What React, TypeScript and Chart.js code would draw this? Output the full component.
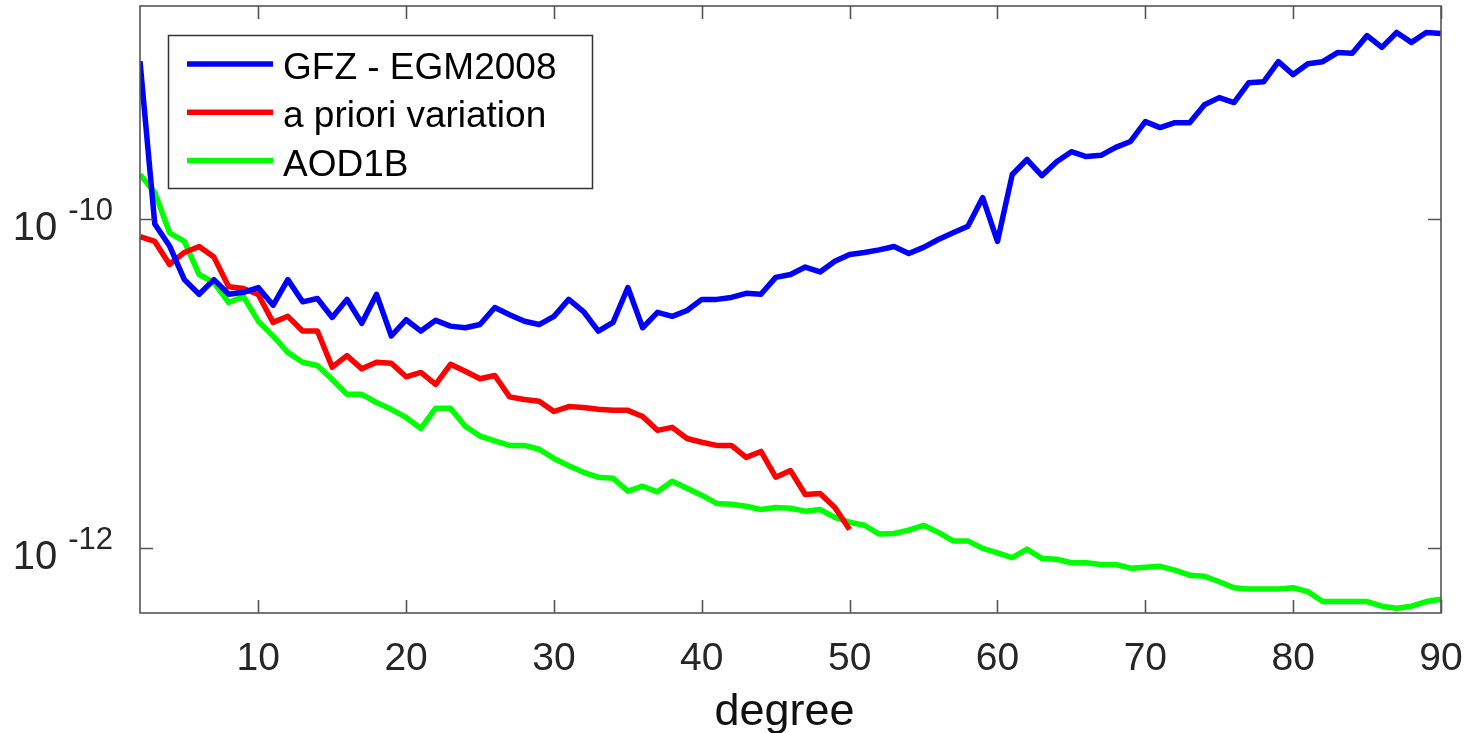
import React, { useEffect, useRef } from "react";
import { Chart, registerables } from "chart.js";

Chart.register(...registerables);

// spherical-harmonic degree
const degrees = [
  2, 3, 4, 5, 6, 7, 8, 9, 10, 11, 12, 13, 14, 15, 16, 17, 18, 19, 20, 21,
  22, 23, 24, 25, 26, 27, 28, 29, 30, 31, 32, 33, 34, 35, 36, 37, 38, 39, 40, 41,
  42, 43, 44, 45, 46, 47, 48, 49, 50, 51, 52, 53, 54, 55, 56, 57, 58, 59, 60, 61,
  62, 63, 64, 65, 66, 67, 68, 69, 70, 71, 72, 73, 74, 75, 76, 77, 78, 79, 80, 81,
  82, 83, 84, 85, 86, 87, 88, 89, 90,
];

const aprioriDegrees = [
  2, 3, 4, 5, 6, 7, 8, 9, 10, 11, 12, 13, 14, 15, 16, 17, 18, 19, 20, 21,
  22, 23, 24, 25, 26, 27, 28, 29, 30, 31, 32, 33, 34, 35, 36, 37, 38, 39, 40, 41,
  42, 43, 44, 45, 46, 47, 48, 49, 50,
];

const gfzEgm2008 = [
  9.2e-10, 9.4e-11, 6.9e-11, 4.3e-11, 3.5e-11, 4.3e-11, 3.5e-11, 3.6e-11, 3.85e-11, 3.0e-11,
  4.3e-11, 3.15e-11, 3.3e-11, 2.53e-11, 3.26e-11, 2.33e-11, 3.5e-11, 1.95e-11, 2.45e-11, 2.09e-11,
  2.43e-11, 2.24e-11, 2.19e-11, 2.29e-11, 2.91e-11, 2.63e-11, 2.4e-11, 2.29e-11, 2.57e-11, 3.26e-11,
  2.75e-11, 2.09e-11, 2.36e-11, 3.85e-11, 2.19e-11, 2.72e-11, 2.57e-11, 2.79e-11, 3.26e-11, 3.26e-11,
  3.35e-11, 3.55e-11, 3.5e-11, 4.44e-11, 4.62e-11, 5.13e-11, 4.79e-11, 5.56e-11, 6.12e-11, 6.3e-11,
  6.53e-11, 6.85e-11, 6.21e-11, 6.76e-11, 7.55e-11, 8.3e-11, 9.1e-11, 1.36e-10, 7.35e-11, 1.88e-10,
  2.32e-10, 1.85e-10, 2.25e-10, 2.59e-10, 2.42e-10, 2.46e-10, 2.75e-10, 2.99e-10, 3.95e-10, 3.63e-10,
  3.89e-10, 3.89e-10, 5.0e-10, 5.53e-10, 5.16e-10, 6.82e-10, 6.9e-10, 9.16e-10, 7.64e-10, 8.9e-10,
  9.16e-10, 1.04e-9, 1.03e-9, 1.32e-9, 1.12e-9, 1.38e-9, 1.2e-9, 1.38e-9, 1.36e-9,
];

const aprioriVariation = [
  7.87e-11, 7.35e-11, 5.32e-11, 6.3e-11, 6.85e-11, 5.9e-11, 3.89e-11, 3.8e-11, 3.49e-11, 2.36e-11,
  2.57e-11, 2.09e-11, 2.09e-11, 1.26e-11, 1.48e-11, 1.23e-11, 1.35e-11, 1.33e-11, 1.1e-11, 1.17e-11,
  9.9e-12, 1.31e-11, 1.19e-11, 1.07e-11, 1.12e-11, 8.3e-12, 8.0e-12, 7.8e-12, 6.76e-12, 7.24e-12,
  7.16e-12, 6.97e-12, 6.87e-12, 6.87e-12, 6.3e-12, 5.19e-12, 5.41e-12, 4.63e-12, 4.39e-12, 4.2e-12,
  4.2e-12, 3.55e-12, 3.86e-12, 2.69e-12, 2.95e-12, 2.11e-12, 2.14e-12, 1.76e-12, 1.29e-12,
];

const aod1b = [
  1.88e-10, 1.46e-10, 8.3e-11, 7.35e-11, 4.62e-11, 4.13e-11, 3.12e-11, 3.39e-11, 2.4e-11, 1.95e-11,
  1.55e-11, 1.35e-11, 1.29e-11, 1.06e-11, 8.6e-12, 8.6e-12, 7.67e-12, 6.97e-12, 6.22e-12, 5.33e-12,
  7.08e-12, 7.08e-12, 5.5e-12, 4.79e-12, 4.47e-12, 4.2e-12, 4.2e-12, 3.98e-12, 3.5e-12, 3.16e-12,
  2.88e-12, 2.69e-12, 2.65e-12, 2.21e-12, 2.37e-12, 2.19e-12, 2.54e-12, 2.3e-12, 2.09e-12, 1.86e-12,
  1.84e-12, 1.79e-12, 1.71e-12, 1.76e-12, 1.74e-12, 1.67e-12, 1.71e-12, 1.53e-12, 1.43e-12, 1.37e-12,
  1.21e-12, 1.22e-12, 1.28e-12, 1.37e-12, 1.24e-12, 1.1e-12, 1.1e-12, 9.9e-13, 9.3e-13, 8.7e-13,
  9.8e-13, 8.6e-13, 8.5e-13, 8.1e-13, 8.1e-13, 7.9e-13, 7.9e-13, 7.5e-13, 7.6e-13, 7.7e-13,
  7.3e-13, 6.8e-13, 6.7e-13, 6.2e-13, 5.7e-13, 5.6e-13, 5.6e-13, 5.6e-13, 5.7e-13, 5.4e-13,
  4.7e-13, 4.7e-13, 4.7e-13, 4.7e-13, 4.4e-13, 4.27e-13, 4.4e-13, 4.7e-13, 4.85e-13,
];

const xTickValues = [10, 20, 30, 40, 50, 60, 70, 80, 90];
const yTickValues = [1e-10, 1e-12];
const yTickExponents = ["-10", "-12"];
const seriesLabels = ["GFZ - EGM2008", "a priori variation", "AOD1B"];
const xAxisTitle = "degree";

const FONT = '"Liberation Sans", Arial, Helvetica, sans-serif';
const AXIS_COLOR = "#555555";
const TEXT_COLOR = "#262626";

const framePlugin = {
  id: "matlabFrame",
  afterDraw(chart: any) {
    const { ctx, chartArea: a, scales } = chart;
    const xs = scales.x;
    const ys = scales.y;
    ctx.save();

    // axes box
    ctx.strokeStyle = AXIS_COLOR;
    ctx.lineWidth = 1.6;
    ctx.strokeRect(a.left, a.top, a.right - a.left, a.bottom - a.top);

    // inward ticks
    const tl = 13;
    ctx.beginPath();
    xs.ticks.forEach((t: any) => {
      const px = Math.round(xs.getPixelForValue(t.value)) + 0.5;
      ctx.moveTo(px, a.bottom);
      ctx.lineTo(px, a.bottom - tl);
      ctx.moveTo(px, a.top);
      ctx.lineTo(px, a.top + tl);
    });
    ys.ticks.forEach((t: any) => {
      const py = Math.round(ys.getPixelForValue(t.value)) + 0.5;
      ctx.moveTo(a.left, py);
      ctx.lineTo(a.left + tl, py);
      ctx.moveTo(a.right, py);
      ctx.lineTo(a.right - tl, py);
    });
    ctx.stroke();

    // x tick labels
    ctx.fillStyle = TEXT_COLOR;
    ctx.font = `39px ${FONT}`;
    ctx.textAlign = "center";
    ctx.textBaseline = "alphabetic";
    xs.ticks.forEach((t: any) => {
      const px = xs.getPixelForValue(t.value);
      ctx.fillText(String(t.value), px, a.bottom + 57);
    });

    // y tick labels 10^exp
    ys.ticks.forEach((t: any, i: number) => {
      const py = ys.getPixelForValue(t.value);
      const sup = yTickExponents[yTickValues.indexOf(t.value)] ?? yTickExponents[i];
      ctx.textAlign = "right";
      ctx.font = `31px ${FONT}`;
      const supRight = a.left - 27;
      ctx.fillText(sup, supRight, py + 1);
      const supW = ctx.measureText(sup).width;
      ctx.font = `40px ${FONT}`;
      ctx.fillText("10", supRight - supW - 11, py + 21);
    });

    // x axis title
    ctx.font = `45px ${FONT}`;
    ctx.textAlign = "center";
    ctx.fillStyle = "#111111";
    ctx.fillText(xAxisTitle, (a.left + a.right) / 2 - 6, 725);

    // legend
    const lx = 168, ly = 35, lw = 424, lh = 153;
    ctx.fillStyle = "#ffffff";
    ctx.fillRect(lx, ly, lw, lh);
    ctx.strokeStyle = "#333333";
    ctx.lineWidth = 1.5;
    ctx.strokeRect(lx + 0.5, ly + 0.5, lw, lh);
    chart.data.datasets.forEach((ds: any, i: number) => {
      const cy = 64 + i * 48.3;
      ctx.strokeStyle = ds.borderColor;
      ctx.lineWidth = 5.5;
      ctx.lineCap = "butt";
      ctx.beginPath();
      ctx.moveTo(187, cy);
      ctx.lineTo(273, cy);
      ctx.stroke();
      ctx.fillStyle = "#000000";
      ctx.font = `37px ${FONT}`;
      ctx.textAlign = "left";
      ctx.fillText(ds.label, 283, cy + 15);
    });

    ctx.restore();
  },
};

export default function App() {
  const canvasRef = useRef<HTMLCanvasElement | null>(null);

  useEffect(() => {
    const canvas = canvasRef.current;
    if (!canvas) return;
    const toPoints = (xs: number[], ys: number[]) => xs.map((x, i) => ({ x, y: ys[i] }));
    const common = { borderWidth: 5.5, pointRadius: 0, tension: 0, borderJoinStyle: "round" };
    const chart = new Chart(canvas, {
      type: "line",
      data: {
        datasets: [
          { ...common, label: seriesLabels[0], data: toPoints(degrees, gfzEgm2008), borderColor: "#0000ff" },
          { ...common, label: seriesLabels[1], data: toPoints(aprioriDegrees, aprioriVariation), borderColor: "#ff0000" },
          { ...common, label: seriesLabels[2], data: toPoints(degrees, aod1b), borderColor: "#00ff00" },
        ],
      },
      options: {
        animation: false,
        responsive: false,
        devicePixelRatio: 1,
        events: [],
        layout: { padding: { left: 0, right: 27, top: 6, bottom: 0 } },
        plugins: {
          legend: { display: false },
          tooltip: { enabled: false },
          title: { display: false },
        },
        scales: {
          x: {
            type: "linear",
            min: 2,
            max: 90,
            grid: { display: false },
            border: { display: false },
            ticks: { display: false },
            afterBuildTicks: (s: any) => {
              s.ticks = xTickValues.map((v) => ({ value: v }));
            },
            afterFit: (s: any) => {
              s.height = 120;
            },
          },
          y: {
            type: "logarithmic",
            min: 4e-13,
            max: 2e-9,
            grid: { display: false },
            border: { display: false },
            ticks: { display: false },
            afterBuildTicks: (s: any) => {
              s.ticks = yTickValues.map((v) => ({ value: v }));
            },
            afterFit: (s: any) => {
              s.width = 140;
            },
          },
        },
      } as any,
      plugins: [framePlugin],
    });
    return () => chart.destroy();
  }, []);

  return (
    <div style={{ position: "absolute", left: 0, top: 0, width: 1468, height: 733, background: "#ffffff" }}>
      <canvas ref={canvasRef} width={1468} height={733} style={{ display: "block", width: 1468, height: 733 }} />
    </div>
  );
}
